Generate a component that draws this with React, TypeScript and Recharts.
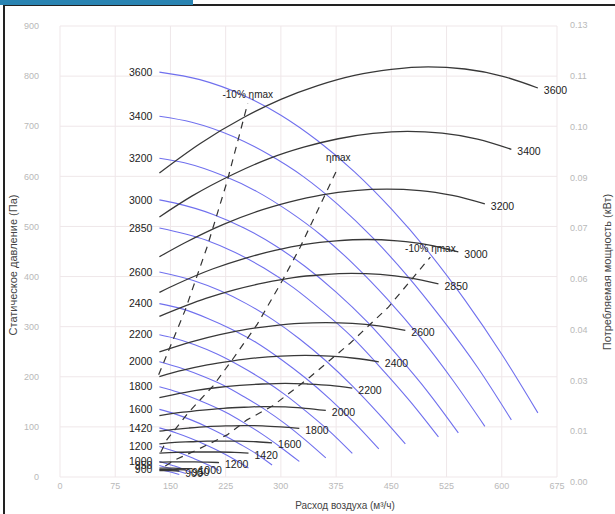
import React from "react";
import { LineChart, Line, XAxis, YAxis, CartesianGrid, LabelList } from "recharts";

// fan speeds (rpm), one blue pressure curve + one black power curve each
const speeds = [3600, 3400, 3200, 3000, 2850, 2600, 2400, 2200, 2000, 1800, 1600, 1420, 1200, 1000, 950, 900];

// airflow points (m3/h) per speed
const flows = [
  [135, 190, 250, 300, 350, 400, 450, 500, 550, 600, 649],
  [135, 179, 236, 283, 331, 378, 425, 472, 519, 567, 613],
  [135, 169, 222, 267, 311, 356, 400, 444, 489, 533, 577],
  [135, 158, 208, 250, 292, 333, 375, 417, 458, 500, 541],
  [135, 198, 238, 277, 317, 356, 396, 435, 475, 514],
  [135, 181, 217, 253, 289, 325, 361, 397, 433, 469],
  [135, 167, 200, 233, 267, 300, 333, 367, 400, 433],
  [135, 153, 183, 214, 244, 275, 306, 336, 367, 397],
  [135, 167, 194, 222, 250, 278, 306, 333, 361],
  [135, 150, 175, 200, 225, 250, 275, 300, 325],
  [135, 156, 178, 200, 222, 244, 267, 288],
  [135, 158, 178, 197, 217, 237, 256],
  [135, 150, 167, 183, 200, 216],
  [135, 153, 167, 180],
  [135, 145, 158, 171],
  [135, 150, 162],
];

// static pressure (Pa) per speed
const pressures = [
  [808, 793, 761, 722, 671, 609, 535, 450, 353, 245, 128],
  [720, 708, 679, 644, 599, 543, 477, 401, 315, 219, 114],
  [636, 627, 601, 570, 530, 481, 423, 356, 279, 194, 101],
  [553, 546, 524, 497, 462, 420, 369, 310, 243, 169, 88],
  [497, 473, 448, 417, 378, 332, 280, 219, 152, 80],
  [409, 392, 372, 346, 314, 276, 232, 182, 126, 66],
  [346, 335, 317, 295, 268, 235, 198, 155, 108, 56],
  [284, 278, 264, 245, 222, 195, 164, 129, 90, 47],
  [230, 216, 201, 183, 160, 135, 106, 74, 38],
  [180, 174, 161, 146, 129, 108, 85, 59, 31],
  [135, 126, 114, 100, 84, 66, 46, 24],
  [98, 88, 77, 65, 51, 35, 18],
  [61, 54, 46, 36, 25, 13],
  [31, 23, 16, 8],
  [23, 19, 13, 7],
  [15, 10, 5],
];

// absorbed power (kW) per speed
const powers = [
  [0.0863, 0.0946, 0.1021, 0.1072, 0.1111, 0.114, 0.1157, 0.1164, 0.1158, 0.1138, 0.1104],
  [0.0738, 0.0797, 0.086, 0.0903, 0.0936, 0.096, 0.0975, 0.0981, 0.0976, 0.0959, 0.093],
  [0.0625, 0.0664, 0.0717, 0.0753, 0.078, 0.0801, 0.0813, 0.0817, 0.0813, 0.0799, 0.0775],
  [0.0524, 0.0547, 0.0591, 0.062, 0.0643, 0.066, 0.067, 0.0674, 0.067, 0.0659, 0.0639],
  [0.0456, 0.0507, 0.0532, 0.0551, 0.0566, 0.0574, 0.0578, 0.0575, 0.0565, 0.0548],
  [0.0355, 0.0385, 0.0404, 0.0419, 0.0429, 0.0436, 0.0438, 0.0436, 0.0429, 0.0416],
  [0.0285, 0.0303, 0.0318, 0.0329, 0.0338, 0.0343, 0.0345, 0.0343, 0.0337, 0.0327],
  [0.0225, 0.0233, 0.0245, 0.0254, 0.026, 0.0264, 0.0266, 0.0264, 0.026, 0.0252],
  [0.0174, 0.0184, 0.019, 0.0195, 0.0198, 0.02, 0.0199, 0.0195, 0.0189],
  [0.013, 0.0134, 0.0139, 0.0143, 0.0145, 0.0146, 0.0145, 0.0142, 0.0138],
  [0.0094, 0.0098, 0.01, 0.0102, 0.0102, 0.0102, 0.01, 0.0097],
  [0.0068, 0.007, 0.0071, 0.0071, 0.0071, 0.007, 0.0068],
  [0.0042, 0.0043, 0.0043, 0.0043, 0.0042, 0.0041],
  [0.0025, 0.0025, 0.0024, 0.0024],
  [0.0021, 0.0021, 0.0021, 0.002],
  [0.0018, 0.0018, 0.0017],
];

// efficiency lines
const effNames = ["-10% ηmax", "ηmax", "-10% ηmax"];
const effFlows = [
  [134, 170, 200, 227, 255],
  [137, 145, 174, 208, 235, 268, 302, 326, 378],
  [143, 156, 186, 227, 254, 289, 340, 394, 446, 503],
];
const effPressures = [
  [204, 333, 460, 590, 746],
  [50, 74, 128, 182, 236, 305, 392, 458, 619],
  [22, 34, 54, 84, 114, 142, 200, 267, 339, 439],
];

const flowTicks = [0, 75, 150, 225, 300, 375, 450, 525, 600, 675];
const flowTopTicks = [0, 1.7, 3.4, 5.1, 6.8, 8.5, 10.2, 11.9, 13.6, 15.3];
const pressureTicks = [0, 100, 200, 300, 400, 500, 600, 700, 800, 900];
const powerTicks = [0, 0.0142, 0.0284, 0.0427, 0.0569, 0.0711, 0.0853, 0.0996, 0.1138, 0.128];

const FONT = "'Liberation Sans', Arial, sans-serif";
const tickStyle = { fontSize: 9, fill: "#b9b9b9", fontFamily: FONT };

const curveData = speeds.map((s, i) =>
  flows[i].map((q, j) => ({ q, p: pressures[i][j], w: powers[i][j] }))
);
const effData = effNames.map((n, i) => effFlows[i].map((q, j) => ({ q, p: effPressures[i][j] })));

const startLabel = (text: string) => (props: any) => {
  const { x, y, index } = props;
  if (index !== 0) return null;
  return (
    <text x={x - 7} y={y} dy="0.35em" textAnchor="end" fontSize={10.5} fill="#222" fontFamily={FONT}>
      {text}
    </text>
  );
};

const endLabel = (text: string, last: number) => (props: any) => {
  const { x, y, index } = props;
  if (index !== last) return null;
  return (
    <text x={x + 6} y={y + 2} dy="0.35em" textAnchor="start" fontSize={10.5} fill="#222" fontFamily={FONT}>
      {text}
    </text>
  );
};

const topLabel = (text: string, last: number) => (props: any) => {
  const { x, y, index } = props;
  if (index !== last) return null;
  return (
    <text x={x} y={y - 9} dy="0.35em" textAnchor="middle" fontSize={10} fill="#222" fontFamily={FONT}>
      {text}
    </text>
  );
};

// right-hand labels sit on a slightly taller scale than the grid
const PowerTick = (props: any) => {
  const { x, y, payload } = props;
  const yy = y + (y - 26) * 0.0133 - 1;
  return (
    <text x={x} y={yy} dy="0.35em" textAnchor="start" fontSize={9} fill="#b9b9b9" fontFamily={FONT}>
      {Number(payload.value).toFixed(2)}
    </text>
  );
};

export default function App() {
  return (
    <div style={{ position: "absolute", left: 0, top: 0, width: 615, height: 514, overflow: "hidden", background: "#fff" }}>
      <div style={{ position: "absolute", left: 3, top: 4, width: 700, height: 600, borderLeft: "2px solid #222", borderTop: "2px solid #222" }} />
      <div style={{ position: "absolute", left: 0, top: 0, width: 193, height: 5, background: "#2a84b2" }} />
      <div style={{ position: "absolute", left: 0, top: 0 }}>
        <LineChart width={615} height={514} margin={{ top: 0, right: 0, bottom: 0, left: 0 }}>
          <CartesianGrid yAxisId="p" stroke="#efe7e9" strokeWidth={1} />
          <XAxis
            dataKey="q"
            type="number"
            domain={[0, 675]}
            ticks={flowTicks}
            interval={0}
            height={37}
            axisLine={false}
            tickLine={false}
            tickSize={0}
            tickMargin={6}
            tick={tickStyle}
            allowDataOverflow
          />
          <XAxis
            xAxisId="top"
            orientation="top"
            type="number"
            domain={[0, 15.3]}
            ticks={flowTopTicks}
            interval={0}
            height={26}
            axisLine={false}
            tickLine={false}
            tickSize={0}
            tickMargin={4}
            tick={tickStyle}
            tickFormatter={(v: number) => v.toFixed(1)}
            allowDataOverflow
          />
          <YAxis
            yAxisId="p"
            type="number"
            domain={[0, 900]}
            ticks={pressureTicks}
            interval={0}
            width={60}
            axisLine={false}
            tickLine={false}
            tickSize={0}
            tickMargin={21}
            tick={tickStyle}
            allowDataOverflow
          />
          <YAxis
            yAxisId="w"
            orientation="right"
            type="number"
            domain={[0, 0.128]}
            ticks={powerTicks}
            interval={0}
            width={58}
            axisLine={false}
            tickLine={false}
            tickSize={0}
            tickMargin={13}
            tick={<PowerTick />}
            allowDataOverflow
          />
          {curveData.map((d, i) => (
            <Line
              key={"p" + speeds[i]}
              yAxisId="p"
              data={d}
              dataKey="p"
              type="monotone"
              stroke="#7070ee"
              strokeWidth={1.1}
              dot={false}
              activeDot={false}
              isAnimationActive={false}
            >
              <LabelList dataKey="p" content={startLabel(String(speeds[i]))} />
            </Line>
          ))}
          {curveData.map((d, i) => (
            <Line
              key={"w" + speeds[i]}
              yAxisId="w"
              data={d}
              dataKey="w"
              type="monotone"
              stroke="#383838"
              strokeWidth={1.3}
              dot={false}
              activeDot={false}
              isAnimationActive={false}
            >
              <LabelList dataKey="w" content={endLabel(String(speeds[i]), d.length - 1)} />
            </Line>
          ))}
          {effData.map((d, i) => (
            <Line
              key={"e" + i}
              yAxisId="p"
              data={d}
              dataKey="p"
              type="linear"
              stroke="#333"
              strokeWidth={1.2}
              strokeDasharray="7 6"
              dot={false}
              activeDot={false}
              isAnimationActive={false}
            >
              <LabelList dataKey="p" content={topLabel(effNames[i], d.length - 1)} />
            </Line>
          ))}
        </LineChart>
      </div>
      <svg width={615} height={514} style={{ position: "absolute", left: 0, top: 0, pointerEvents: "none" }}>
        <text transform="translate(13,265) rotate(-90)" textAnchor="middle" dominantBaseline="central" fontSize={11} fill="#444" fontFamily={FONT}>
          Статическое давление (Па)
        </text>
        <text transform="translate(607,272) rotate(-90)" textAnchor="middle" dominantBaseline="central" fontSize={11} fill="#444" fontFamily={FONT}>
          Потребляемая мощность (кВт)
        </text>
        <text x={345} y={505} textAnchor="middle" dominantBaseline="central" fontSize={10} fill="#444" fontFamily={FONT}>
          Расход воздуха (м³/ч)
        </text>
      </svg>
    </div>
  );
}
